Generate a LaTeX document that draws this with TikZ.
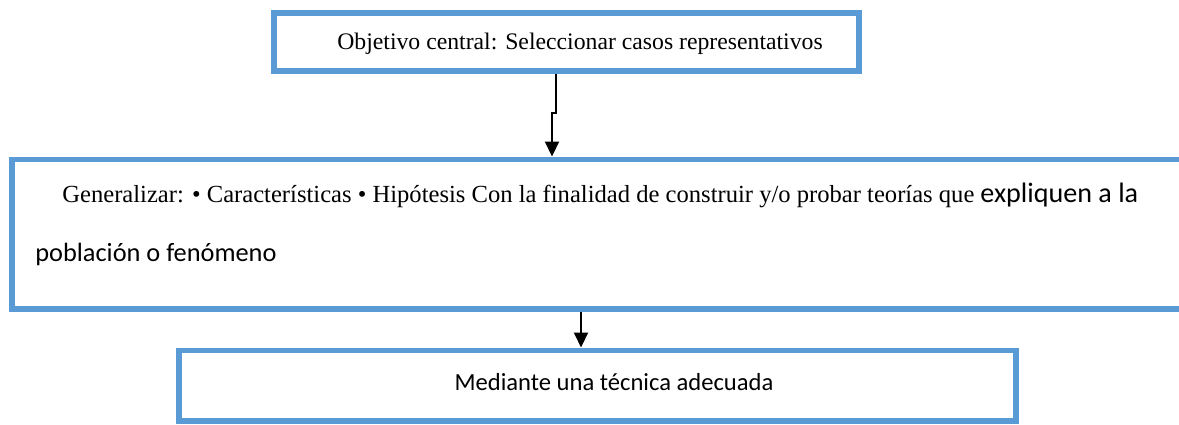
\documentclass[tikz,border=0pt]{standalone}
\usepackage{fontspec}
\setmainfont{Liberation Serif}
\newfontfamily\calibri{Carlito}
\usetikzlibrary{arrows.meta,positioning}
\definecolor{cajaazul}{HTML}{5B9BD5}

\begin{document}
\begin{tikzpicture}[
    x=0.02cm,y=-0.02cm,
    caja/.style   = {rectangle,draw=cajaazul,line width=3.4pt,inner sep=0pt},
    flecha/.style = {-{Triangle[length=0.3cm,width=0.28cm]},line width=1.1pt,black},
    txt/.style    = {font=\fontsize{13.5}{16}\selectfont,inner sep=0pt},
  ]
  \useasboundingbox (0,0) rectangle (1179,425);
  \clip (0,0) rectangle (1179,425);

  % Cajas
  \node[caja,minimum width=11.7cm,minimum height=1.16cm]  (obj) at (566.5,42)    {};
  \node[caja,minimum width=23.76cm,minimum height=2.99cm] (gen) at (606,234.25)  {};
  \node[caja,minimum width=16.76cm,minimum height=1.41cm] (tec) at (597.5,385.75) {};

  % Textos
  \node[txt] (objtxt) at (580,44) {Objetivo central: Seleccionar casos representativos};
  \node[txt,font=\fontsize{14}{17}\selectfont,anchor=base west] (gena) at (62,203)
    {Generalizar: • Características • Hipótesis Con la finalidad de construir y/o probar teorías que {\calibri\fontsize{16}{19}\selectfont expliquen a la}};
  \node[txt,font=\calibri\fontsize{15}{18}\selectfont,anchor=base west] (genb) at (35,262) {población o fenómeno};
  \node[txt,font=\calibri\fontsize{14}{17}\selectfont] (tectxt) at (614,382) {Mediante una técnica adecuada};

  % Flechas
  \coordinate (q1) at (556,113);
  \coordinate (q2) at (552,113);
  \coordinate (q3) at (581,0);
  \draw[flecha] (obj.south -| q1) -- (q1) -- (q2) -- (q2 |- gen.north);
  \draw[flecha] (gen.south -| q3) -- (q3 |- tec.north);

\end{tikzpicture}
\end{document}
